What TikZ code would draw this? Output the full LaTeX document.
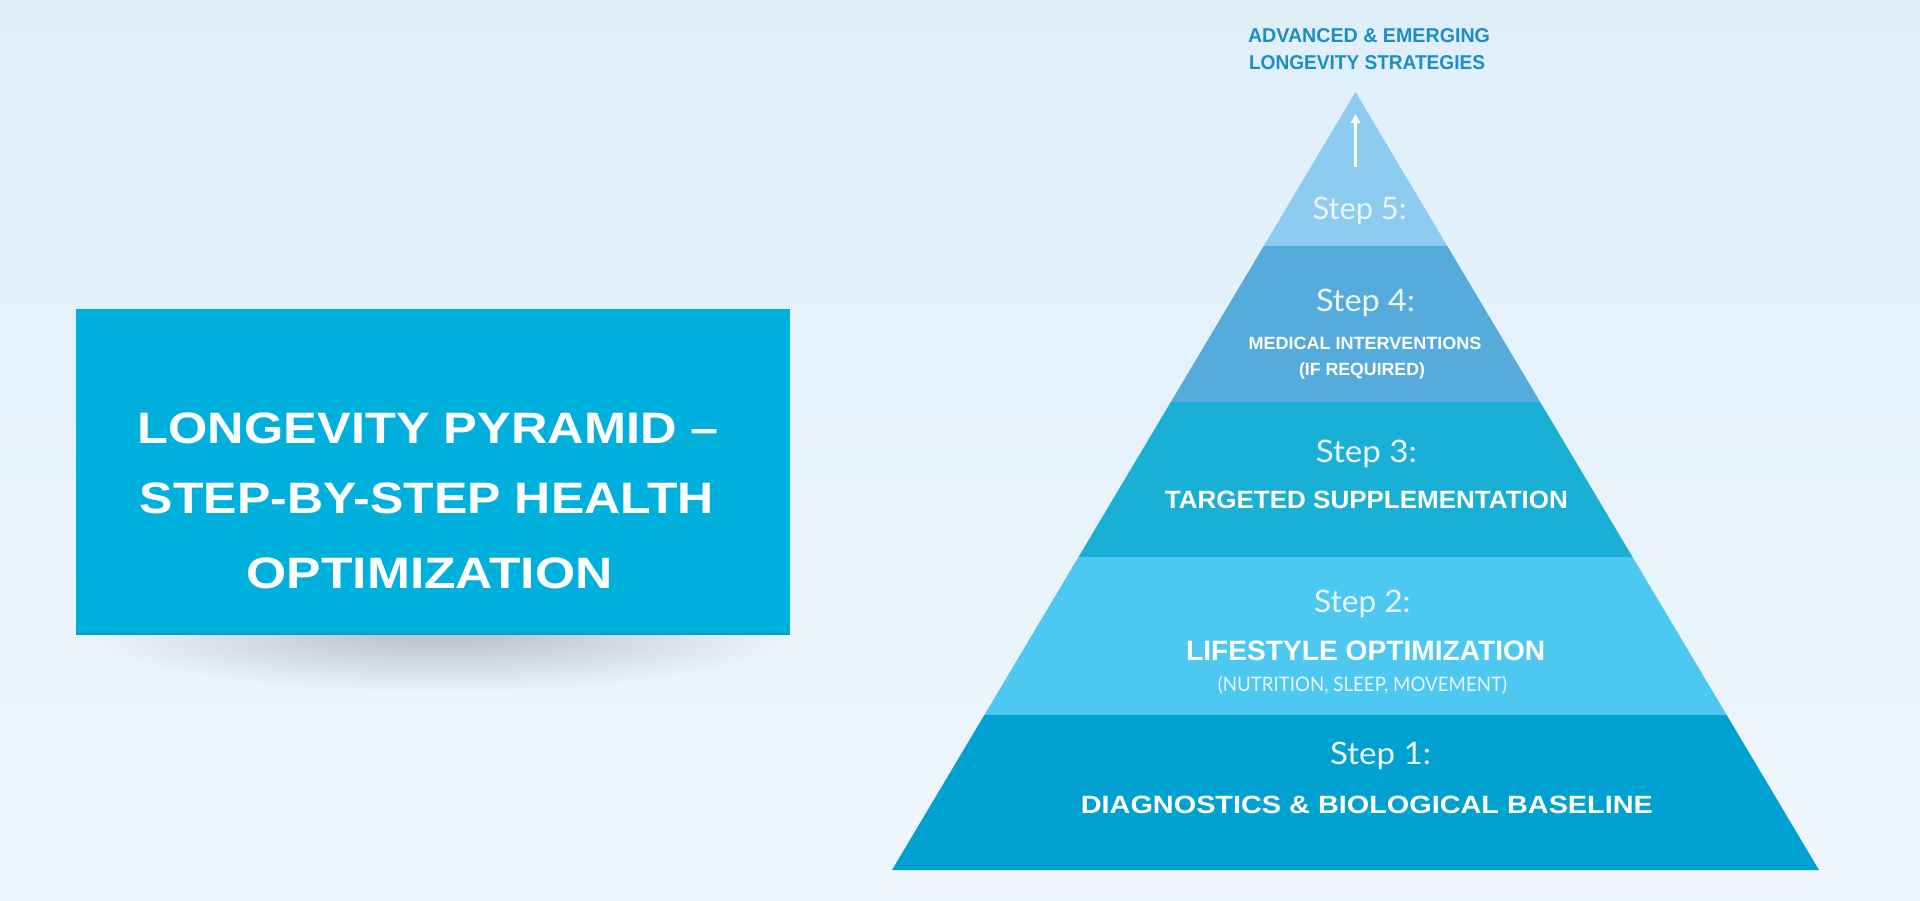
\documentclass[tikz,border=0pt]{standalone}
\usepackage{fontspec}
\setmainfont{Liberation Sans}
\newfontfamily\lightfont{Lato}
\usetikzlibrary{calc,arrows.meta}
\definecolor{bgtop}{HTML}{DFEFFA}
\definecolor{bgmid}{HTML}{ECF5FB}
\definecolor{bgbot}{HTML}{EFF6FC}
\definecolor{boxc}{HTML}{00B0DC}
\definecolor{boxedge}{HTML}{0A9BC8}
\definecolor{cfive}{HTML}{8DCBF1}
\definecolor{cfour}{HTML}{55ACDC}
\definecolor{cthree}{HTML}{1AB0D6}
\definecolor{ctwo}{HTML}{4CC8F1}
\definecolor{cone}{HTML}{00A0D1}
\definecolor{advc}{HTML}{1A8DCB}
\definecolor{softw}{HTML}{EAF6FC}
\newcommand\fw[2]{\resizebox{#1pt}{\height}{#2}}
\tikzset{
  txt/.style={anchor=base, inner sep=0pt, outer sep=0pt},
  steplbl/.style={txt, text=softw, font=\lightfont\fontsize{31}{31}\selectfont},
  boldlbl/.style={txt, text=white, font=\bfseries},
  advlbl/.style={txt, text=advc, font=\bfseries\fontsize{20}{20}\selectfont},
  titlelbl/.style={txt, text=white, font=\bfseries\fontsize{44}{44}\selectfont},
}
\begin{document}
\begin{tikzpicture}[x=1pt,y=-1pt]
\useasboundingbox (0,0) rectangle (1920,900);
\shade[top color=bgtop, middle color=bgmid, bottom color=bgbot] (0,0) rectangle (1920,900);

% ---- title box with soft shadow
\begin{scope}
  \clip (76,634) rectangle (790,720);
  \foreach \i in {0,...,21}{
    \fill[black, opacity=0.009] (440,634) ellipse ({345-\i*13} and {58-\i*2.3});
  }
\end{scope}
\node[fill=boxc, minimum width=714pt, minimum height=325pt, inner sep=0pt] (box) at (433,471.5) {};
\draw[boxedge, line width=1.5pt] (box.south west) -- (box.south east);

\node[titlelbl] (t1) at (428.3,443) {\fw{581}{LONGEVITY PYRAMID –}};
\node[titlelbl] (t2) at (427,513) {\fw{574}{STEP-BY-STEP HEALTH}};
\node[titlelbl] (t3) at (429.6,588) {\fw{366}{OPTIMIZATION}};

% ---- pyramid
\coordinate (apex) at (1355.5,92);
\coordinate (bl) at (892,870);
\coordinate (br) at (1819,870);
\foreach \n/\t in {1/0.1979, 2/0.3985, 3/0.5977, 4/0.8008}{
  \coordinate (l\n) at ($(apex)!\t!(bl)$);
  \coordinate (r\n) at ($(apex)!\t!(br)$);
}
\fill[cfive]  (apex) -- (r1) -- (l1) -- cycle;
\fill[cfour]  (l1) -- (r1) -- (r2) -- (l2) -- cycle;
\fill[cthree] (l2) -- (r2) -- (r3) -- (l3) -- cycle;
\fill[ctwo]   (l3) -- (r3) -- (r4) -- (l4) -- cycle;
\fill[cone]   (l4) -- (r4) -- (br) -- (bl) -- cycle;

% ---- arrow
\coordinate (arrS) at (1355.5,167);
\coordinate (arrE) at (1355.5,114);
\draw[white, line width=3pt, -{Triangle[length=9pt,width=9pt]}] (arrS) -- (arrE);

% ---- top label
\node[advlbl] (adv1) at (1369,42) {\fw{242}{ADVANCED \& EMERGING}};
\node[advlbl] (adv2) at (1367,69) {\fw{236}{LONGEVITY STRATEGIES}};

% ---- step labels
\node[steplbl] (s5) at (1359.5,219.5) {\fw{94}{Step 5:}};
\node[steplbl] (s4) at (1365.5,311.5) {\fw{99}{Step 4:}};
\node[boldlbl, font=\bfseries\fontsize{17.7}{17.7}\selectfont] (s4a) at (1365,349) {\fw{233}{MEDICAL INTERVENTIONS}};
\node[boldlbl, font=\bfseries\fontsize{17.7}{17.7}\selectfont] (s4b) at (1362,375) {\fw{126}{(IF REQUIRED)}};
\node[steplbl] (s3) at (1366.4,462.5) {\fw{101}{Step 3:}};
\node[boldlbl, font=\bfseries\fontsize{25}{25}\selectfont] (s3a) at (1366.4,508) {\fw{403}{TARGETED SUPPLEMENTATION}};
\node[steplbl] (s2) at (1362.3,612) {\fw{96.5}{Step 2:}};
\node[boldlbl, font=\bfseries\fontsize{28}{28}\selectfont] (s2a) at (1365.7,660) {\fw{359}{LIFESTYLE OPTIMIZATION}};
\node[txt, text=softw, font=\lightfont\fontsize{20}{20}\selectfont] (s2b) at (1362.4,691) {\fw{289}{(NUTRITION, SLEEP, MOVEMENT)}};
\node[steplbl] (s1) at (1380.5,764.5) {\fw{101}{Step 1:}};
\node[boldlbl, font=\bfseries\fontsize{25}{25}\selectfont] (s1a) at (1366.9,813) {\fw{572}{DIAGNOSTICS \& BIOLOGICAL BASELINE}};
\end{tikzpicture}
\end{document}
